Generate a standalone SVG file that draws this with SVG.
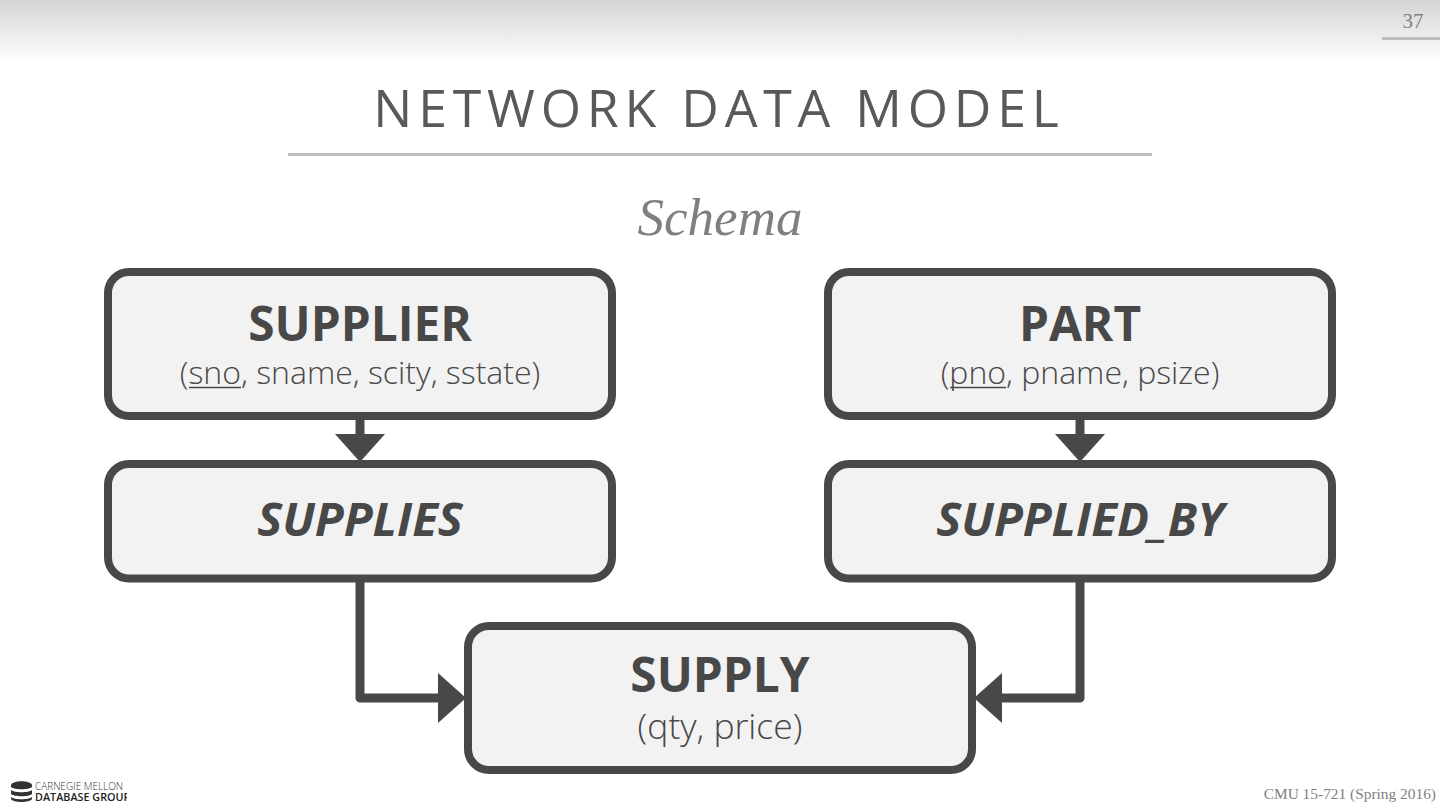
<svg xmlns="http://www.w3.org/2000/svg" width="1440" height="810" viewBox="0 0 1440 810">
<style>
.box{fill:#f2f2f2;stroke:#484848;stroke-width:8}
.wire{fill:none;stroke:#484848;stroke-width:9;stroke-linejoin:round}
.head{fill:#484848}
text{font-family:"Open Sans","Noto Sans",sans-serif;text-anchor:middle}
.name{font-size:47.800px;font-weight:700;fill:#484848}
.attr{font-size:32px;font-weight:300;fill:#484848}
.attr2{font-size:35.500px;font-weight:300;fill:#484848}
.it{font-size:47.300px;font-weight:700;font-style:italic;fill:#484848}
.ser{font-family:"Liberation Serif",serif}
.ul{stroke:#484848;stroke-width:1.300}
</style>
<defs><linearGradient id="g" x1="0" y1="0" x2="0" y2="1"><stop offset="0" stop-color="#d4d4d4"/><stop offset="1" stop-color="#ffffff"/></linearGradient>
<clipPath id="lc"><rect x="0" y="775" width="127" height="35"/></clipPath></defs>
<rect width="1440" height="810" fill="#fff"/>
<rect width="1440" height="62" fill="url(#g)"/>
<rect x="1382" y="37" width="58" height="3" fill="#bdbdbd"/>
<text class="ser" x="1413" y="28" font-size="21" fill="#7f7f7f">37</text>
<text x="719" y="127" font-size="51.800" fill="#595959" letter-spacing="5.800">NETWORK DATA MODEL</text>
<rect x="288" y="153" width="864" height="3" fill="#bdbdbd"/>
<text class="ser" x="720" y="235" font-size="53" font-style="italic" fill="#7f7f7f">Schema</text>
<g id="connectors">
<path class="wire" d="M360 416V436"/><polygon class="head" points="335,434 385,434 360,462"/>
<path class="wire" d="M1080 416V436"/><polygon class="head" points="1055,434 1105,434 1080,462"/>
<path class="wire" d="M360 578V698H442"/><polygon class="head" points="438,673 438,723 466,698"/>
<path class="wire" d="M1080 578V698H998"/><polygon class="head" points="1002,673 1002,723 974,698"/>
</g>
<g id="supplier"><rect class="box" x="108" y="272" width="504" height="144" rx="21"/>
<text class="name" x="360" y="341">SUPPLIER</text>
<text class="attr" x="360" y="384">(sno, sname, scity, sstate)</text>
<line class="ul" x1="189" y1="387.500" x2="241" y2="387.500"/></g>
<g id="part"><rect class="box" x="828" y="272" width="504" height="144" rx="21"/>
<text class="name" x="1080" y="341">PART</text>
<text class="attr" x="1080" y="384">(pno, pname, psize)</text>
<line class="ul" x1="950" y1="387.500" x2="1006" y2="387.500"/></g>
<g id="supplies"><rect class="box" x="108" y="464" width="504" height="114.500" rx="21"/>
<text class="it" x="360" y="536">SUPPLIES</text></g>
<g id="supplied_by"><rect class="box" x="828" y="464" width="504" height="114.500" rx="21"/>
<text class="it" x="1080" y="536">SUPPLIED_BY</text></g>
<g id="supply"><rect class="box" x="468" y="626" width="504" height="144" rx="21"/>
<text class="name" x="720" y="692">SUPPLY</text>
<text class="attr2" x="720" y="739">(qty, price)</text></g>
<g id="logo">
<path d="M11 785c2-5 19-5 21 0v2c-3 3-18 3-21 0z" fill="#333"/>
<path d="M11 790c3 3 18 3 21 0v4c-3 3-18 3-21 0z M11 797c3 3 18 3 21 0v2c-2 4-19 4-21 0z" fill="#333"/>
<g clip-path="url(#lc)">
<text x="35" y="790" font-size="10" fill="#333" style="text-anchor:start;font-weight:300">CARNEGIE MELLON</text>
<text x="35" y="801" font-size="10.800" fill="#222" style="text-anchor:start;font-weight:600">DATABASE GROUP</text>
</g></g>
<text class="ser" x="1436" y="799" font-size="15.400" fill="#7f7f7f" style="text-anchor:end">CMU 15-721 (Spring 2016)</text>
</svg>
